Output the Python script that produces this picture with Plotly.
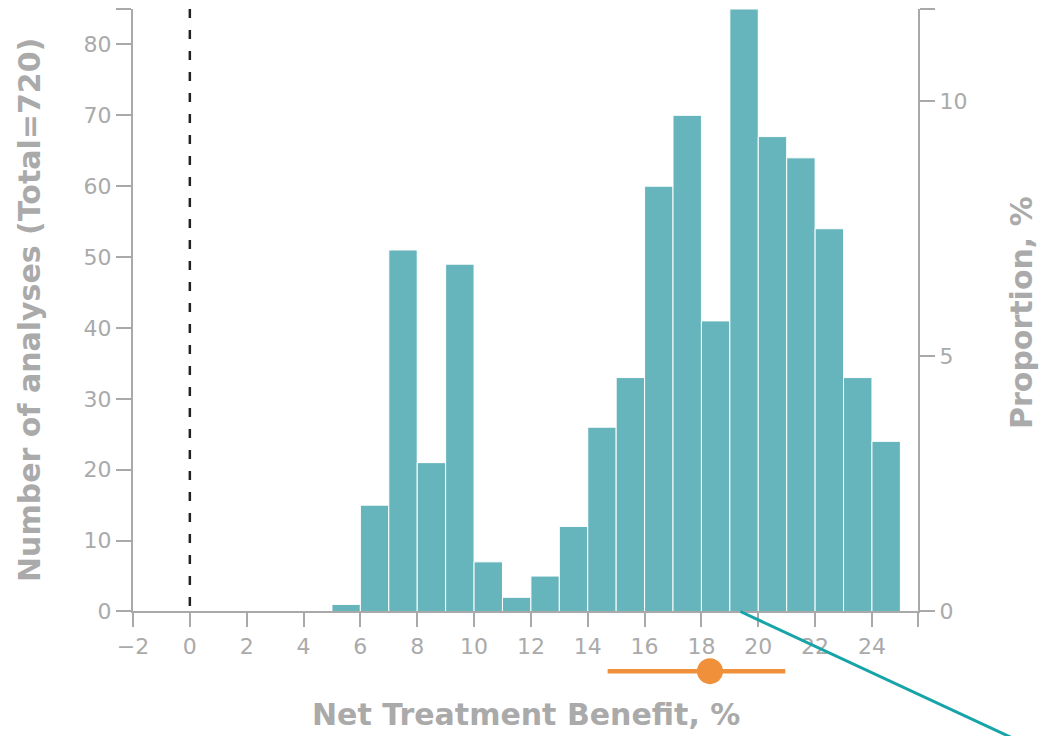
import plotly.graph_objects as go

# Histogram of net treatment benefit across analyses (1-point bins)
bin_starts = list(range(5, 25))
counts = [1, 15, 51, 21, 49, 7, 2, 5, 12, 26, 33, 60, 70, 41, 85, 67, 64, 54, 33, 24]
bin_width = 1
total = sum(counts)  # 720

# Summary estimate with its interval, shown under the axis
summary_low = 14.7
summary_mid = 18.3
summary_high = 20.95

# Leader line leaving the axis at this benefit value
pointer_x = 19.37

x_ticks = list(range(-2, 25, 2))
count_ticks = list(range(0, 81, 10))
prop_ticks = [0, 5, 10]

x_min, x_max = -2, 25.62
y_max = 85
prop_max = y_max / total * 100

TEAL = "#67b5bc"
LEADER = "#16a4a9"
ORANGE = "#f0903a"
AXIS = "#a9a9a9"
TEXT = "#aaaaaa"
FONT = "DejaVu Sans"

W, H = 1042, 736
M_L, M_R, M_T, M_B = 133, 124, 9, 30
plot_w = W - M_L - M_R
plot_h = H - M_T - M_B
main_bottom = 0.1356  # lower edge of the histogram panel (paper fraction)


def paper_x(px):
    return (px - M_L) / plot_w


def paper_y(py):
    return (H - M_B - py) / plot_h


def fmt(v):
    return str(v).replace("-", "\u2212")


fig = go.Figure()

fig.add_trace(go.Bar(
    x=[s + bin_width / 2 for s in bin_starts],
    y=counts,
    width=bin_width,
    marker=dict(color=TEAL, line=dict(color="white", width=1)),
    xaxis="x", yaxis="y",
    hoverinfo="skip",
))

# empty trace so the proportion axis gets its own scale on the right
fig.add_trace(go.Scatter(x=[], y=[], xaxis="x", yaxis="y2", mode="markers",
                         hoverinfo="skip"))

# interval line and point estimate
fig.add_trace(go.Scatter(
    x=[summary_low, summary_high], y=[0.5, 0.5],
    mode="lines", line=dict(color=ORANGE, width=4.5),
    xaxis="x", yaxis="y3", hoverinfo="skip",
))
fig.add_trace(go.Scatter(
    x=[summary_mid], y=[0.5],
    mode="markers", marker=dict(color=ORANGE, size=26, line=dict(width=0)),
    xaxis="x", yaxis="y3", hoverinfo="skip",
))

# reference line at zero benefit
fig.add_shape(type="line", xref="x", yref="y", x0=0, x1=0, y0=y_max, y1=0,
              line=dict(color="#222222", width=2.5, dash="9px,12px"))

# leader line from the axis running off to the lower right
lead_x0 = (pointer_x - x_min) / (x_max - x_min)
lead_px0 = M_L + lead_x0 * plot_w
lead_py0 = H - M_B - main_bottom * plot_h
slope = 0.465
lead_px1 = lead_px0 + 400
lead_py1 = lead_py0 + slope * 400
fig.add_shape(type="line", xref="paper", yref="paper",
              x0=lead_x0, y0=main_bottom, x1=paper_x(lead_px1), y1=paper_y(lead_py1),
              line=dict(color=LEADER, width=3))

axis_common = dict(
    showline=True, linecolor=AXIS, linewidth=2,
    ticks="outside", tickcolor=AXIS, tickwidth=2,
    showgrid=False, zeroline=False,
    tickfont=dict(family=FONT, size=22, color=TEXT),
)

fig.update_layout(
    width=W, height=H,
    margin=dict(l=M_L, r=M_R, t=M_T, b=M_B),
    plot_bgcolor="white", paper_bgcolor="white",
    showlegend=False,
    font=dict(family=FONT, color=TEXT),
    xaxis=dict(
        range=[x_min, x_max], anchor="y",
        tickmode="array", tickvals=x_ticks + [x_max],
        ticktext=[fmt(v) for v in x_ticks] + [""],
        ticklen=14, **axis_common,
    ),
    yaxis=dict(
        domain=[main_bottom, 1], range=[0, y_max], anchor="x",
        tickmode="array", tickvals=count_ticks + [y_max],
        ticktext=[str(v) for v in count_ticks] + [""],
        ticklen=15, **axis_common,
    ),
    yaxis2=dict(
        overlaying="y", side="right", anchor="x", range=[0, prop_max],
        tickmode="array", tickvals=prop_ticks + [prop_max],
        ticktext=[str(v) for v in prop_ticks] + [""],
        ticklen=15, **axis_common,
    ),
    yaxis3=dict(domain=[0, 0.1], range=[0, 1], visible=False, fixedrange=True),
    annotations=[
        dict(text="<b>Net Treatment Benefit, %</b>", xref="paper", yref="paper",
             x=0.5, y=paper_y(714), xanchor="center", yanchor="middle",
             showarrow=False, font=dict(family=FONT, size=30, color=TEXT)),
        dict(text="<b>Number of analyses (Total=720)</b>", xref="paper", yref="paper",
             x=paper_x(29), y=paper_y(310), xanchor="center", yanchor="middle",
             textangle=-90, showarrow=False, font=dict(family=FONT, size=30, color=TEXT)),
        dict(text="<b>Proportion, %</b>", xref="paper", yref="paper",
             x=paper_x(1021), y=paper_y(313), xanchor="center", yanchor="middle",
             textangle=-90, showarrow=False, font=dict(family=FONT, size=30, color=TEXT)),
    ],
)

fig.write_html("out.html")
